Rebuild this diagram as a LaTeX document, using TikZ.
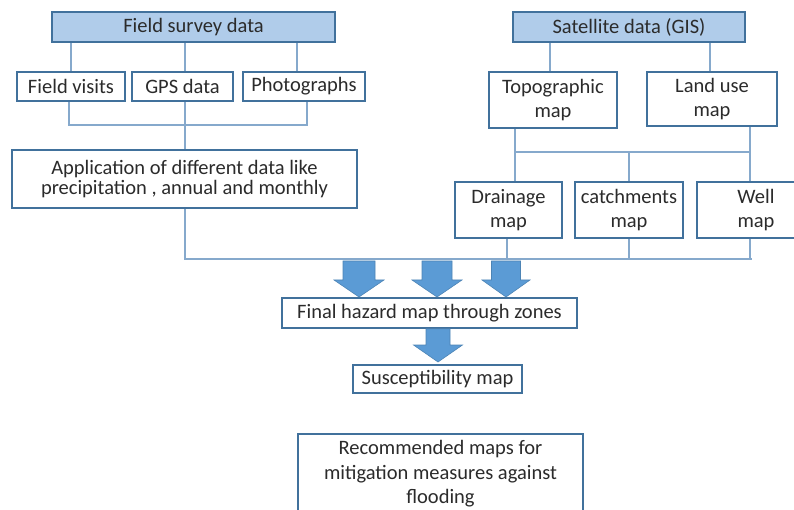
\documentclass[tikz,border=0pt]{standalone}
\usepackage{fontspec}
\setmainfont{Carlito}
\definecolor{boxline}{HTML}{41719C}
\definecolor{hdrfill}{HTML}{B0CCEA}
\definecolor{connc}{HTML}{86A9CC}
\definecolor{arrfill}{HTML}{5B9BD5}
\definecolor{txt}{HTML}{2B2B2B}
\newcommand\blkarrow[6]{% cx, ytop, yhead, ytip, half shaft, half head
  \fill[blockarr] ({#1-#5},#2) -- ({#1+#5},#2) -- ({#1+#5},#3) -- ({#1+#6},#3) -- (#1,#4) -- ({#1-#6},#3) -- ({#1-#5},#3) -- cycle;}
\begin{document}
\begin{tikzpicture}[x=1pt,y=-1pt,
  box/.style={draw=boxline, line width=1.6pt, fill=white, inner sep=0pt, align=center, text=txt},
  one/.style={font=\fontsize{20.5}{24}\selectfont},
  tight/.style={font=\fontsize{20.5}{20}\selectfont},
  loose/.style={font=\fontsize{20.5}{24.5}\selectfont},
  hdr/.style={box, fill=hdrfill},
  conn/.style={draw=connc, line width=1.3pt},
  blockarr/.style={fill=arrfill, draw=arrfill!85!black, line width=0.6pt}]
\useasboundingbox (0,0) rectangle (794,510);
\clip (0,0) rectangle (794,510);
% helper coordinates for connector positions
\coordinate (c69) at (69,0);
\coordinate (c185) at (185,0);
\coordinate (c297) at (297,0);
\coordinate (c307) at (307,0);
\coordinate (c507) at (507,0);
\coordinate (c515) at (515,0);
\coordinate (c550) at (550,0);
\coordinate (c710) at (710,0);
\coordinate (c750) at (750,0);
\coordinate (c752) at (752,0);
\coordinate (jy) at (0,125);
\coordinate (my) at (0,152);
\coordinate (by) at (0,259);
% nodes
\node[hdr, one, minimum width=283pt, minimum height=30pt] (fsd) at (193.5,27) {Field survey data};
\node[hdr, one, minimum width=232pt, minimum height=30pt] (sat) at (629,27) {Satellite data (GIS)};
\node[box, one, minimum width=108pt, minimum height=29pt] (fv) at (71,86.5) {Field visits};
\node[box, one, minimum width=101pt, minimum height=29pt] (gps) at (182.5,86.5) {GPS data};
\node[box, one, minimum width=122pt, minimum height=29pt] (pho) at (304,86.5) {Photographs};
\node[box, tight, minimum width=345pt, minimum height=58pt] (app) at (184.5,179) {Application of different data like\\precipitation , annual and monthly};
\node[box, loose, minimum width=128pt, minimum height=56pt] (topo) at (553,100) {Topographic\\map};
\node[box, loose, minimum width=130pt, minimum height=54pt] (land) at (712,99) {Land use\\map};
\node[box, loose, minimum width=107pt, minimum height=56pt] (drain) at (508.5,210) {Drainage\\map};
\node[box, loose, minimum width=108pt, minimum height=56pt] (catch) at (629,210) {catchments\\map};
\node[box, loose, minimum width=118pt, minimum height=56pt] (well) at (756,210) {Well\\map};
\node[box, one, minimum width=295pt, minimum height=30pt] (fin) at (429.5,313) {Final hazard map through zones};
\node[box, one, minimum width=169pt, minimum height=28pt] (sus) at (437.5,379) {Susceptibility map};
\node[box, loose, minimum width=285pt, minimum height=80pt] (rec) at (440.5,474) {Recommended maps for\\mitigation measures against\\flooding};
% connectors, left branch
\draw[conn] (fsd.south -| fv) -- (fv.north);
\draw[conn] (fsd.south -| c185) -- (gps.north -| c185);
\draw[conn] (fsd.south -| c297) -- (pho.north -| c297);
\draw[conn] (fv.south -| c69) -- (c69 |- jy) -- (c307 |- jy) -- (pho.south -| c307);
\draw[conn] (gps.south -| c185) -- (app.north -| c185);
\draw[conn] (app.south -| c185) -- (c185 |- by) -- (c752 |- by);
% connectors, right branch
\draw[conn] (sat.south -| c550) -- (topo.north -| c550);
\draw[conn] (sat.south -| c710) -- (land.north -| c710);
\draw[conn] (topo.south -| c515) -- (drain.north -| c515);
\draw[conn] (land.south -| c750) -- (well.north -| c750);
\draw[conn] (c515 |- my) -- (c750 |- my);
\draw[conn] (catch |- my) -- (catch.north);
\draw[conn] (drain.south -| c507) -- (c507 |- by);
\draw[conn] (catch.south) -- (catch |- by);
\draw[conn] (well.south -| c750) -- (c750 |- by);
% block arrows
\blkarrow{359}{261}{280}{297}{16}{25}
\blkarrow{437}{261}{280}{297}{15}{25}
\blkarrow{506}{261}{280}{297}{14.5}{24}
\blkarrow{438}{328.8}{345}{362}{12}{24.5}
\end{tikzpicture}
\end{document}
